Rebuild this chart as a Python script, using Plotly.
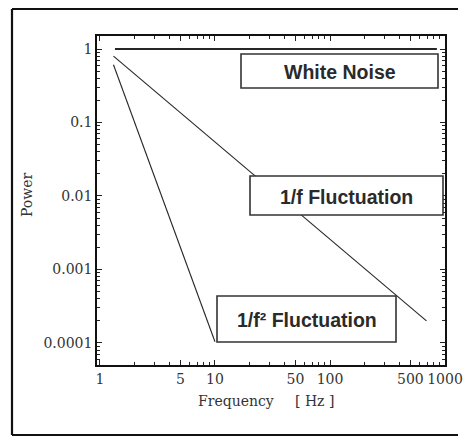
import plotly.graph_objects as go

# ---- data ----
freq_white = [1.35, 850]
power_white = [1.0, 1.0]

freq_1f = [1.31, 690]
power_1f = [0.80, 0.0002]

freq_1f2 = [1.31, 10]
power_1f2 = [0.61, 0.000104]

x_tickvals = [1, 5, 10, 50, 100, 500, 1000]
x_ticktext = ["1", "5", "10", "50", "100", "500", "1000"]
y_tickvals = [0.0001, 0.001, 0.01, 0.1, 1]
y_ticktext = ["0.0001", "0.001", "0.01", "0.1", "1"]

series_labels = ["White Noise", "1/f Fluctuation", "1/f² Fluctuation"]

# ---- layout geometry (pixels) ----
W, H = 463, 441
L, R, T, B = 97, 445, 36, 365

def px(x):
    return (x - L) / (R - L)

def py(y):
    return (B - y) / (B - T)

x_minor = [m * 10 ** d for d in range(0, 3) for m in range(2, 10) if m != 5]
y_minor = [m * 10.0 ** d for d in range(-5, 1) for m in range(2, 10)]

line_col = "#262626"
fig = go.Figure()
fig.add_trace(go.Scatter(x=freq_white, y=power_white, mode="lines",
                         line=dict(color=line_col, width=2), showlegend=False))
fig.add_trace(go.Scatter(x=freq_1f, y=power_1f, mode="lines",
                         line=dict(color=line_col, width=1.1), showlegend=False))
fig.add_trace(go.Scatter(x=freq_1f2, y=power_1f2, mode="lines",
                         line=dict(color=line_col, width=1.1), showlegend=False))

tickfont = dict(family="DejaVu Serif", size=14, color="#333")

fig.update_xaxes(type="log", range=[-0.026, 3.0], tickmode="array",
                 tickvals=x_tickvals, ticktext=x_ticktext, tickfont=tickfont,
                 ticks="inside", ticklen=5, tickwidth=1.2, tickcolor="#222",
                 showline=True, linecolor="#111", linewidth=1.6, mirror="allticks",
                 showgrid=False, zeroline=False, automargin=False,
                 minor=dict(tickmode="array", tickvals=x_minor, ticks="inside",
                            ticklen=3, tickwidth=1, tickcolor="#222", showgrid=False))
fig.update_yaxes(type="log", range=[-4.3, 0.177], tickmode="array",
                 tickvals=y_tickvals, ticktext=y_ticktext, tickfont=tickfont,
                 ticks="inside", ticklen=5, tickwidth=1.2, tickcolor="#222",
                 showline=True, linecolor="#111", linewidth=1.6, mirror="allticks",
                 showgrid=False, zeroline=False, automargin=False,
                 minor=dict(tickmode="array", tickvals=y_minor, ticks="inside",
                            ticklen=3, tickwidth=1, tickcolor="#222", showgrid=False))

# label boxes (pixel boxes -> paper coordinates)
boxes = [(241, 54, 438, 88), (250, 176, 443, 215), (217, 296, 396, 342)]
shapes = []
annotations = []
for (x0, y0, x1, y1), lab in zip(boxes, series_labels):
    shapes.append(dict(type="rect", xref="paper", yref="paper",
                       x0=px(x0), x1=px(x1), y0=py(y1), y1=py(y0),
                       fillcolor="white", line=dict(color="#333", width=1.6),
                       layer="above"))
    annotations.append(dict(xref="paper", yref="paper",
                            x=px((x0 + x1) / 2), y=py((y0 + y1) / 2 + 1),
                            text="<b>%s</b>" % lab, showarrow=False,
                            xanchor="center", yanchor="middle",
                            font=dict(family="Liberation Sans", size=19.5, color="#2a2a2a")))

# outer frame (left, top, bottom edges only; right edge lies outside the picture)
frame_line = dict(color="#111", width=2.2)
for (ax0, ay0, ax1, ay1) in [(12, 9, 12, 435), (12, 9, 458, 9), (12, 435, 458, 435)]:
    shapes.append(dict(type="line", xref="paper", yref="paper",
                       x0=px(ax0), y0=py(ay0), x1=px(ax1), y1=py(ay1),
                       line=frame_line, layer="above"))

# axis titles
titlefont = dict(family="DejaVu Serif", size=14, color="#333")
annotations.append(dict(xref="paper", yref="paper", x=px(27), y=py(195),
                        text="Power", textangle=-90, showarrow=False,
                        xanchor="center", yanchor="middle", font=titlefont))
annotations.append(dict(xref="paper", yref="paper", x=px(236), y=py(401),
                        text="Frequency", showarrow=False,
                        xanchor="center", yanchor="middle", font=titlefont))
annotations.append(dict(xref="paper", yref="paper", x=px(314), y=py(401),
                        text="[ Hz ]", showarrow=False,
                        xanchor="center", yanchor="middle", font=titlefont))

fig.update_layout(width=W, height=H, margin=dict(l=L, r=W - R, t=T, b=H - B),
                  paper_bgcolor="white", plot_bgcolor="white",
                  shapes=shapes, annotations=annotations, showlegend=False)

fig.write_html("out.html", config={"displayModeBar": False},
               post_script=("document.documentElement.style.margin='0px';"
                            "document.documentElement.style.overflow='hidden';"
                            "document.body.style.margin='0px';"
                            "document.body.style.overflow='hidden';"))
